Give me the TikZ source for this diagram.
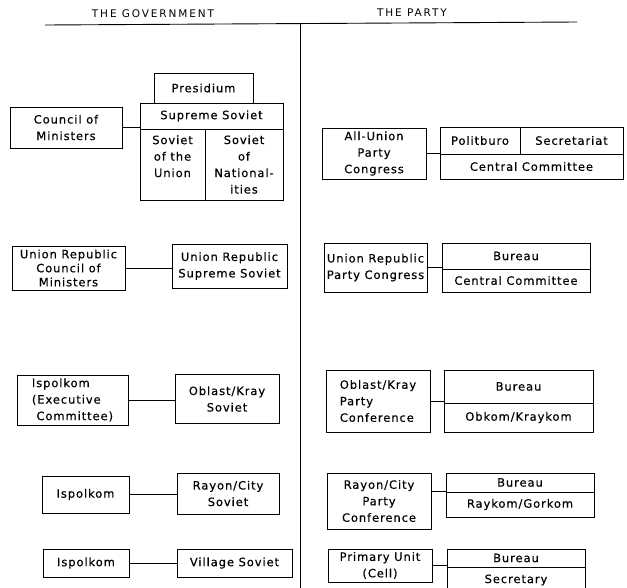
\documentclass[tikz,border=0pt]{standalone}
\usepackage{fontspec}
\setmainfont{DejaVu Sans}
\newfontfamily\chartfont[LetterSpace=8,FakeBold=0.4]{DejaVu Sans}
\newfontfamily\headfont[LetterSpace=18]{DejaVu Sans}

\begin{document}
\begin{tikzpicture}[x=1pt,y=-1pt,
	box/.style={draw,line width=0.9pt,inner sep=1pt,align=center,font=\chartfont\fontsize{11.5}{16.5}\selectfont},
	cell/.style 2 args={box,minimum width=#1,minimum height=#2},
	link/.style={line width=0.9pt},
	heading/.style={font=\headfont\fontsize{10.5}{12}\selectfont}]
	\useasboundingbox (0,0) rectangle (627,587);
	\clip (0,0) rectangle (627,587);
	\node[heading] (govtitle) at (153,14) {THE GOVERNMENT};
	\node[heading] (partytitle) at (412,13) {THE PARTY};
	\coordinate (ruleL) at (45,25);
	\coordinate (ruleR) at (577,22);
	\coordinate (spineT) at (300,23.5);
	\coordinate (spineB) at (300,590);
	\draw[link] (ruleL) -- (ruleR);
	\draw[link] (spineT) -- (spineB);
	% the government
	\node[cell={99}{30}] (presidium) at (203.5,88) {Presidium};
	\node[cell={143}{26}] (supsov) at (211.5,116) {Supreme Soviet};
	\node[cell={65}{71}] (sovunion) at (172.5,164.5) {Soviet\\of the\\Union\\\mbox{}};
	\node[cell={78}{71}] (sovnat) at (244,164.5) {Soviet\\of\\National-\\ities};
	\node[cell={112}{41}] (council) at (66,127.5) {Council of\\Ministers};
	\node[cell={113}{44},font=\chartfont\fontsize{11.5}{14}\selectfont] (urcouncil) at (68.5,268) {Union Republic\\Council of\\Ministers};
	\node[cell={115}{44}] (ursupsov) at (229.5,266) {Union Republic\\Supreme Soviet};
	\node[cell={111}{50},align=left] (ispolkomA) at (72.5,400) {Ispolkom\\(Executive\\\ Committee)};
	\node[cell={104}{49}] (oblsov) at (227,399) {Oblast/Kray\\Soviet};
	\node[cell={87}{37}] (ispolkomB) at (85.5,494.5) {Ispolkom};
	\node[cell={102}{41}] (raysov) at (228,493.5) {Rayon/City\\Soviet};
	\node[cell={86}{28}] (ispolkomC) at (86,563) {Ispolkom};
	\node[cell={115}{28}] (villsov) at (234.5,563) {Village Soviet};
	\draw[link] (council.east) -- (council.east -| supsov.west);
	\draw[link] (urcouncil.east) -- (urcouncil.east -| ursupsov.west);
	\draw[link] (ispolkomA.east) -- (ispolkomA.east -| oblsov.west);
	\draw[link] (ispolkomB.east) -- (ispolkomB.east -| raysov.west);
	\draw[link] (ispolkomC.east) -- (ispolkomC.east -| villsov.west);
	% the party
	\node[cell={104}{51}] (congress) at (374,153.5) {All-Union\\Party\\Congress};
	\node[cell={80}{27}] (politburo) at (480,140.5) {Politburo};
	\node[cell={103}{27}] (secretariat) at (571.5,140.5) {Secretariat};
	\node[cell={183}{25}] (cc) at (531.5,166.5) {Central Committee};
	\node[cell={103}{49}] (urcongress) at (375.5,267.5) {Union Republic\\Party Congress};
	\node[cell={148}{26}] (urbureau) at (516,256) {Bureau};
	\node[cell={148}{23}] (urcc) at (516,280.5) {Central Committee};
	\node[cell={104}{62},align=left] (oblconf) at (378,401) {Oblast/Kray\\Party\\Conference};
	\node[cell={149}{33}] (oblbureau) at (518.5,386.5) {Bureau};
	\node[cell={149}{29}] (obkom) at (518.5,417.5) {Obkom/Kraykom};
	\node[cell={104}{56}] (rayconf) at (379,501) {Rayon/City\\Party\\Conference};
	\node[cell={148}{19}] (raybureau) at (520,482.5) {Bureau};
	\node[cell={148}{25}] (raykom) at (520,504.5) {Raykom/Gorkom};
	\node[cell={104}{33}] (primary) at (380,565.5) {Primary Unit\\(Cell)};
	\node[cell={138}{18}] (pbureau) at (516,558) {Bureau};
	\node[cell={138}{26}] (secretary) at (516,580) {Secretary};
	\draw[link] (congress.east) -- (congress.east -| cc.west);
	\draw[link] (urcongress.east) -- (urcongress.east -| urcc.west);
	\draw[link] (oblconf.east) -- (oblconf.east -| obkom.west);
	\draw[link] (rayconf.east |- raykom.north west) -- (raykom.north west);
	\draw[link] (primary.east) -- (primary.east -| secretary.west);
\end{tikzpicture}
\end{document}
